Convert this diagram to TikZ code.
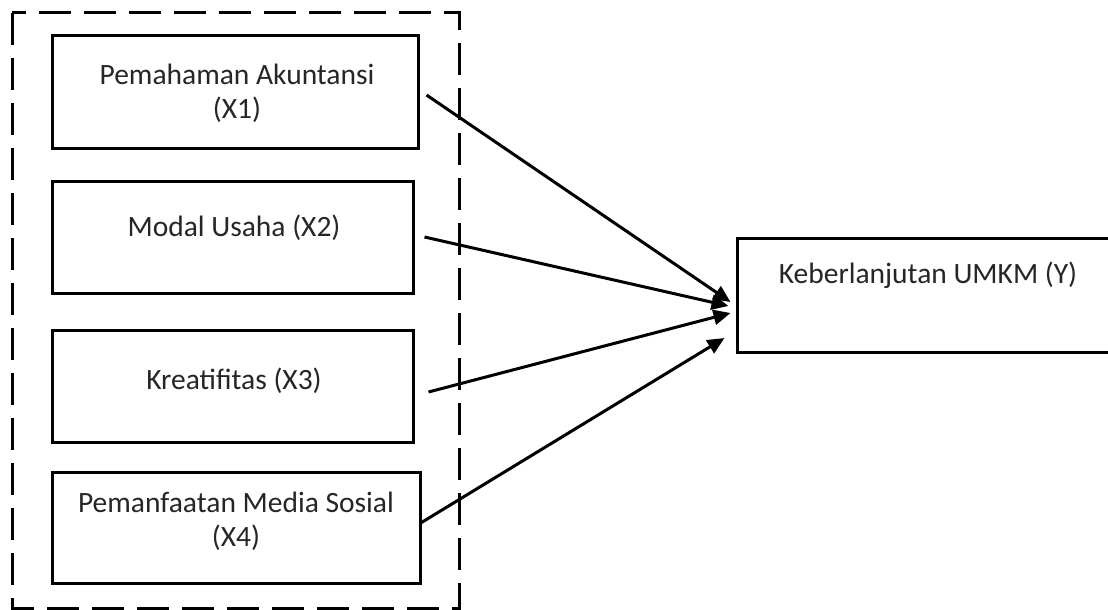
\documentclass[tikz,border=0pt]{standalone}
\usepackage{fontspec}
\setmainfont{Carlito}
\usetikzlibrary{arrows.meta}
\begin{document}
\begin{tikzpicture}[x=1pt,y=-1pt,
  box/.style={draw=black,line width=3pt,inner sep=0pt},
  txt/.style={text=black!85,font=\fontsize{29.5}{34}\selectfont,align=center,inner sep=0pt},
  arr/.style={-{Triangle[length=17pt,width=15pt]},line width=3pt},
  grp/.style={draw=black,line width=3pt,dash pattern=on 32pt off 13pt}]
\useasboundingbox (0,0) rectangle (1108,610);
\fill[white] (0,0) rectangle (1108,610);
% group frame
\draw[grp] (12,13) rectangle (459,608);
% boxes
\node[box,minimum width=366pt,minimum height=112pt] (b1) at (235,92) {};
\node[box,minimum width=361pt,minimum height=112pt] (b2) at (232.5,237) {};
\node[box,minimum width=361pt,minimum height=112pt] (b3) at (232.5,386) {};
\node[box,minimum width=368pt,minimum height=111pt] (b4) at (236,527.5) {};
\node[box,minimum width=372pt,minimum height=114pt] (y) at (923,295) {};
% texts
\node[txt] (t1) at (237,93) {Pemahaman Akuntansi\\(X1)};
\node[txt] (t2) at (234,228) {Modal Usaha (X2)};
\node[txt] (t3) at (234,381) {Kreatifitas (X3)};
\node[txt] (t4) at (236,521) {Pemanfaatan Media Sosial\\(X4)};
\node[txt] (ty) at (928,275) {Keberlanjutan UMKM (Y)};
% arrows
\draw[arr] ([xshift=7pt,yshift=-3pt]b1.east) -- ([xshift=-5pt,yshift=-7pt]y.west);
\draw[arr] ([xshift=10pt]b2.east) -- ([xshift=-7pt,yshift=-11pt]y.west);
\draw[arr] ([xshift=14pt,yshift=-6pt]b3.east) -- ([xshift=-5pt,yshift=-18pt]y.west);
\draw[arr] ([xshift=0pt,yshift=5pt]b4.east) -- ([xshift=-11pt,yshift=-43pt]y.west);
\end{tikzpicture}
\end{document}
